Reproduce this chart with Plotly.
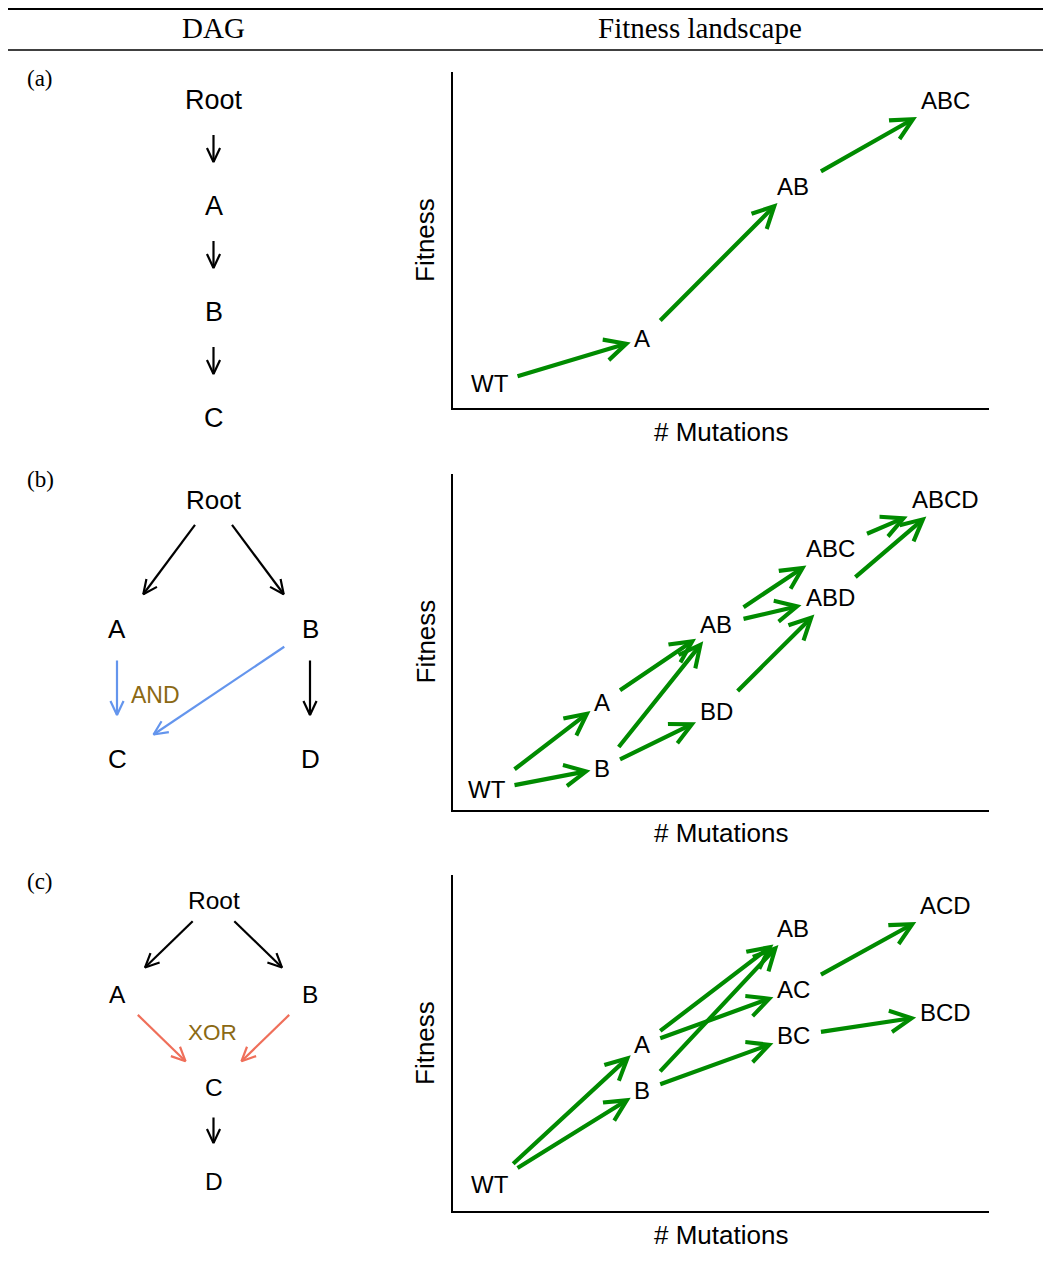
import math
import plotly.graph_objects as go

W, H = 1051, 1262          # target page size
OFF = 8                    # default page body margin
FW, FH = W - OFF, H - OFF  # figure size
SANS = "Liberation Sans, Arial, sans-serif"
SERIF = "Liberation Serif, Times New Roman, serif"
GREEN = "#008B00"
BLUE = "#6495ED"
RED = "#EF6F5A"
GOLD = "#8B6914"

# ---------------- data ----------------
headers = ["DAG", "Fitness landscape"]
panel_tags = ["(a)", "(b)", "(c)"]

# DAG panel (a)
dag_a_nodes = ["Root", "A", "B", "C"]
dag_a_col = [0, 0, 0, 0]
dag_a_level = [0, 1, 2, 3]
dag_a_edges = [("Root", "A"), ("A", "B"), ("B", "C")]
dag_a_edge_kind = ["plain", "plain", "plain"]

# DAG panel (b)
dag_b_nodes = ["Root", "A", "B", "C", "D"]
dag_b_col = [0, -1, 1, -1, 1]
dag_b_level = [0, 1, 1, 2, 2]
dag_b_edges = [("Root", "A"), ("Root", "B"), ("A", "C"), ("B", "C"), ("B", "D")]
dag_b_edge_kind = ["plain", "plain", "AND", "AND", "plain"]

# DAG panel (c)
dag_c_nodes = ["Root", "A", "B", "C", "D"]
dag_c_col = [0, -1, 1, 0, 0]
dag_c_level = [0, 1, 1, 2, 3]
dag_c_edges = [("Root", "A"), ("Root", "B"), ("A", "C"), ("B", "C"), ("C", "D")]
dag_c_edge_kind = ["plain", "plain", "XOR", "XOR", "plain"]

# Fitness landscape (a)
fit_a_genotypes = ["WT", "A", "AB", "ABC"]
fit_a_mutations = [0, 1, 2, 3]
fit_a_fitness = [0.07, 0.205, 0.658, 0.914]
fit_a_edges = [("WT", "A"), ("A", "AB"), ("AB", "ABC")]

# Fitness landscape (b)
fit_b_genotypes = ["WT", "A", "B", "AB", "BD", "ABC", "ABD", "ABCD"]
fit_b_mutations = [0, 1, 1, 2, 2, 3, 3, 4]
fit_b_fitness = [0.057, 0.318, 0.122, 0.548, 0.289, 0.774, 0.628, 0.920]
fit_b_edges = [("WT", "A"), ("WT", "B"), ("A", "AB"), ("B", "AB"), ("B", "BD"),
               ("AB", "ABC"), ("AB", "ABD"), ("BD", "ABD"),
               ("ABC", "ABCD"), ("ABD", "ABCD")]

# Fitness landscape (c)
fit_c_genotypes = ["WT", "A", "B", "AB", "AC", "BC", "ACD", "BCD"]
fit_c_mutations = [0, 1, 1, 2, 2, 2, 3, 3]
fit_c_fitness = [0.077, 0.494, 0.357, 0.839, 0.658, 0.521, 0.908, 0.589]
fit_c_edges = [("WT", "A"), ("WT", "B"), ("A", "AB"), ("A", "AC"), ("B", "AB"),
               ("B", "BC"), ("AC", "ACD"), ("BC", "BCD")]

# ---------------- layout geometry (page pixels) ----------------
def px_x(p):
    return (p - OFF) / FW

def px_y(p):
    return 1 - (p - OFF) / FH

row_shift = [0, 401.5, 803]
fit_left, fit_right = 453, 989
fit_top0, fit_bot0 = 72, 408
fit_xranges = [[-0.244, 3.289], [-0.297, 4.384], [-0.244, 3.289]]
fit_yrange = [0, 1]

dag_left, dag_right = 20.5, 406.5
dag_xrange = [-2, 2]
dag_rows = [(58, 455, 100, 106), (460, 858, 500, 129.5), (862, 1260, 901, 93.7)]
dag_fonts = [27, 26, 24.5]
dag_standoffs = [(35, 44), (31, 44), (29, 39)]
HEAD_LEN, HEAD_ANG = 15.5, math.radians(25)
TEXT_DY = 0.5

fig = go.Figure()
layout = dict(
    width=FW, height=FH, margin=dict(l=0, r=0, t=0, b=0),
    paper_bgcolor="white", plot_bgcolor="white", showlegend=False,
)
annotations = []
shapes = []

dags = [
    (dag_a_nodes, dag_a_col, dag_a_level, dag_a_edges, dag_a_edge_kind),
    (dag_b_nodes, dag_b_col, dag_b_level, dag_b_edges, dag_b_edge_kind),
    (dag_c_nodes, dag_c_col, dag_c_level, dag_c_edges, dag_c_edge_kind),
]
fits = [
    (fit_a_genotypes, fit_a_mutations, fit_a_fitness, fit_a_edges),
    (fit_b_genotypes, fit_b_mutations, fit_b_fitness, fit_b_edges),
    (fit_c_genotypes, fit_c_mutations, fit_c_fitness, fit_c_edges),
]

kind_color = {"plain": "black", "AND": BLUE, "XOR": RED}


def box_clip(dx, dy, hw, hh):
    n = (dx * dx + dy * dy) ** 0.5
    tx = hw * n / abs(dx) if abs(dx) > 1e-9 else 1e9
    ty = hh * n / abs(dy) if abs(dy) > 1e-9 else 1e9
    return min(tx, ty)


for k in range(3):
    dag_ax = 2 * k + 1
    fit_ax = 2 * k + 2
    dx_name = "x" if dag_ax == 1 else f"x{dag_ax}"
    dy_name = "y" if dag_ax == 1 else f"y{dag_ax}"
    fx_name = f"x{fit_ax}"
    fy_name = f"y{fit_ax}"

    # ---- DAG axes ----
    top, bot, p0, s = dag_rows[k]
    yr = [-(bot - p0) / s, -(top - p0) / s]
    hidden = dict(visible=False, showgrid=False, zeroline=False, fixedrange=True)
    layout["xaxis" if dag_ax == 1 else f"xaxis{dag_ax}"] = dict(
        hidden, domain=[px_x(dag_left), px_x(dag_right)], range=dag_xrange,
        anchor=dy_name)
    layout["yaxis" if dag_ax == 1 else f"yaxis{dag_ax}"] = dict(
        hidden, domain=[px_y(bot), px_y(top)], range=yr, anchor=dx_name)

    nodes, cols, levels, edges, kinds = dags[k]
    for n, c, l in zip(nodes, cols, levels):
        annotations.append(dict(
            x=c, y=-l, xref=dx_name, yref=dy_name, text=n, showarrow=False,
            yshift=TEXT_DY, xanchor="center", yanchor="middle",
            font=dict(family=SANS, size=dag_fonts[k], color="black")))

    # DAG arrows drawn as thin line arrows (shaft + two head strokes)
    kx = (dag_right - dag_left) / (dag_xrange[1] - dag_xrange[0])  # px per unit
    ky = s                                                          # px per level
    pos = {n: (c, l) for n, c, l in zip(nodes, cols, levels)}
    st, sh = dag_standoffs[k]
    for (a, b), kind in zip(edges, kinds):
        ax_p, ay_p = pos[a][0] * kx, pos[a][1] * ky
        bx_p, by_p = pos[b][0] * kx, pos[b][1] * ky
        d = math.hypot(bx_p - ax_p, by_p - ay_p)
        ux, uy = (bx_p - ax_p) / d, (by_p - ay_p) / d
        tx_, ty_ = ax_p + ux * st, ay_p + uy * st
        hx_, hy_ = bx_p - ux * sh, by_p - uy * sh
        legs = []
        for sgn in (1, -1):
            ca, sa = math.cos(sgn * HEAD_ANG), math.sin(sgn * HEAD_ANG)
            rx, ry = ux * ca - uy * sa, ux * sa + uy * ca
            legs.append((hx_ - HEAD_LEN * rx, hy_ - HEAD_LEN * ry))
        pts = [(tx_, ty_), (hx_, hy_), None, legs[0], (hx_, hy_), legs[1]]
        xs = [None if p is None else p[0] / kx for p in pts]
        ys = [None if p is None else -p[1] / ky for p in pts]
        fig.add_trace(go.Scatter(
            x=xs, y=ys, mode="lines", cliponaxis=False,
            line=dict(color=kind_color[kind], width=2.2),
            xaxis=dx_name, yaxis=dy_name, hoverinfo="skip"))

    # ---- fitness axes ----
    ftop = fit_top0 + row_shift[k]
    fbot = fit_bot0 + row_shift[k]
    xr = fit_xranges[k]
    axline = dict(showline=True, linecolor="black", linewidth=2, ticks="",
                  showticklabels=False, showgrid=False, zeroline=False,
                  fixedrange=True)
    layout[f"xaxis{fit_ax}"] = dict(axline, domain=[px_x(fit_left), px_x(fit_right)],
                                    range=xr, anchor=fy_name)
    layout[f"yaxis{fit_ax}"] = dict(axline, domain=[px_y(fbot), px_y(ftop)],
                                    range=fit_yrange, anchor=fx_name)

    gens, muts, fitv, fedges = fits[k]
    # invisible anchor trace so the axes are drawn
    fig.add_trace(go.Scatter(x=muts, y=fitv, mode="markers",
                             marker=dict(size=1, opacity=0),
                             xaxis=fx_name, yaxis=fy_name, hoverinfo="skip"))
    for g, m, f in zip(gens, muts, fitv):
        annotations.append(dict(
            x=m, y=f, xref=fx_name, yref=fy_name, text=g, showarrow=False,
            yshift=TEXT_DY, xanchor="center", yanchor="middle",
            font=dict(family=SANS, size=24, color="black")))
    sx = (fit_right - fit_left) / (xr[1] - xr[0])
    sy = (fbot - ftop) / (fit_yrange[1] - fit_yrange[0])
    fpos = {g: (m, f) for g, m, f in zip(gens, muts, fitv)}
    for a, b in fedges:
        ddx = (fpos[b][0] - fpos[a][0]) * sx
        ddy = (fpos[b][1] - fpos[a][1]) * sy
        tail = box_clip(ddx, ddy, 9 * len(a) + 8, 20)
        head = box_clip(ddx, ddy, 9 * len(b) + 2, 16)
        annotations.append(dict(
            x=fpos[b][0], y=fpos[b][1], ax=fpos[a][0], ay=fpos[a][1],
            xref=fx_name, yref=fy_name, axref=fx_name, ayref=fy_name,
            text="", showarrow=True, arrowhead=5, arrowsize=1.0,
            arrowwidth=4.2, arrowcolor=GREEN,
            standoff=head, startstandoff=tail))

    # axis titles
    annotations.append(dict(
        x=px_x(425), y=px_y((ftop + fbot) / 2), xref="paper", yref="paper",
        text="Fitness", textangle=-90, showarrow=False,
        font=dict(family=SANS, size=26, color="black"),
        xanchor="center", yanchor="middle"))
    annotations.append(dict(
        x=px_x((fit_left + fit_right) / 2), y=px_y(432 + row_shift[k]),
        xref="paper", yref="paper", text="# Mutations", showarrow=False,
        font=dict(family=SANS, size=26, color="black"),
        xanchor="center", yanchor="middle"))

    # panel tag
    annotations.append(dict(
        x=px_x(40), y=px_y(78 + row_shift[k]), xref="paper", yref="paper",
        text=panel_tags[k], showarrow=False,
        font=dict(family=SERIF, size=23, color="black"),
        xanchor="center", yanchor="middle"))

# logic labels
annotations.append(dict(x=-0.606, y=-1.506, xref="x3", yref="y3", text="AND",
                        showarrow=False, yshift=TEXT_DY,
                        font=dict(family=SANS, size=23, color=GOLD)))
annotations.append(dict(x=-0.01, y=-1.41, xref="x5", yref="y5", text="XOR",
                        showarrow=False, yshift=TEXT_DY,
                        font=dict(family=SANS, size=22.5, color=GOLD)))

# header
for txt, cx in zip(headers, [213, 700]):
    annotations.append(dict(
        x=px_x(cx), y=px_y(28), xref="paper", yref="paper", text=txt,
        showarrow=False, font=dict(family=SERIF, size=29, color="black"),
        xanchor="center", yanchor="middle"))

shapes.append(dict(type="line", xref="paper", yref="paper",
                   x0=px_x(8), x1=1, y0=px_y(9), y1=px_y(9),
                   line=dict(color="black", width=2.2)))
shapes.append(dict(type="line", xref="paper", yref="paper",
                   x0=px_x(8), x1=1, y0=px_y(50), y1=px_y(50),
                   line=dict(color="black", width=1.3)))

layout["annotations"] = annotations
layout["shapes"] = shapes
fig.update_layout(**layout)
fig.write_html("out.html")
